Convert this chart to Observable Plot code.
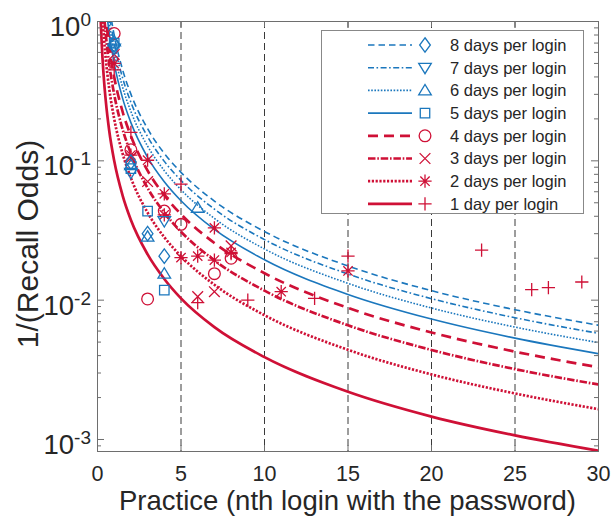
<!DOCTYPE html>
<html><head><meta charset="utf-8">
<script src="https://cdn.jsdelivr.net/npm/d3@7"></script>
<script src="https://cdn.jsdelivr.net/npm/@observablehq/plot@0.6"></script>
<style>
body{margin:0;background:#fff;}
#wrap{position:relative;width:613px;height:518px;font-family:"Liberation Sans",Arial,Helvetica,sans-serif;}
</style>
</head><body><div id="wrap"></div>
<script>
// ---------- data ----------
const legendLabels = ["8 days per login","7 days per login","6 days per login","5 days per login",
                      "4 days per login","3 days per login","2 days per login","1 day per login"];
const xTicks = [0,5,10,15,20,25,30];
const gridX = [5,10,15,20,25];
const yMajor = [1e-3,1e-2,1e-1,1];
const yExponents = ["-3","-2","-1","0"];

// model curves (x = nth login, y = 1/recall odds)
const curveX = [0.15,0.2,0.3,0.4,0.5,0.7,1,1.5,2,3,4,5,7,10,15,20,25,30];
const curve8 = [11.6,7.74,4.37,2.91,2.13,1.32,0.800,0.452,0.301,0.170,0.113,0.0827,0.0514,0.0311,0.0176,0.0117,0.00854,0.00661];
const curve7 = [10.2,6.77,3.82,2.55,1.86,1.157,0.700,0.395,0.263,0.149,0.0991,0.0724,0.045,0.0272,0.0154,0.01025,0.00748,0.00578];
const curve6 = [8.7,5.8,3.28,2.18,1.59,0.992,0.600,0.339,0.226,0.1275,0.085,0.062,0.0386,0.0233,0.0132,0.00878,0.00641,0.00496];
const curve5 = [7.25,4.84,2.73,1.82,1.33,0.827,0.500,0.282,0.188,0.106,0.0708,0.0517,0.0322,0.0195,0.011,0.00732,0.00534,0.00413];
const curve4 = [5.8,3.87,2.18,1.46,1.06,0.661,0.400,0.226,0.151,0.085,0.0566,0.0414,0.0257,0.0156,0.0088,0.00586,0.00427,0.0033];
const curve3 = [4.35,2.9,1.64,1.09,0.797,0.496,0.300,0.169,0.113,0.0638,0.0425,0.031,0.0193,0.0117,0.0066,0.00439,0.0032,0.00248];
const curve2 = [2.9,1.93,1.09,0.728,0.531,0.331,0.200,0.113,0.0753,0.0425,0.0283,0.0207,0.0129,0.0078,0.0044,0.00293,0.00214,0.00165];
const curve1 = [1.45,0.967,0.546,0.364,0.266,0.165,0.100,0.0565,0.0376,0.0213,0.0142,0.0103,0.0064,0.0039,0.0022,0.00146,0.00107,0.00083];

// observed points
const obs8x = [1,2,3,4];             const obs8y = [0.68,0.098,0.030,0.0207];
const obs7x = [1,2,4];               const obs7y = [0.64,0.082,0.037];
const obs6x = [1,2,3,4,6];           const obs6y = [0.72,0.093,0.0285,0.0155,0.046];
const obs5x = [1,2,3,4];             const obs5y = [0.70,0.088,0.0436,0.0118];
const obs4x = [1,2,3,4,5,7,8];       const obs4y = [0.82,0.12,0.0102,0.0436,0.035,0.0155,0.020];
const obs3x = [1,2,3,6,7,8];         const obs3y = [0.58,0.105,0.071,0.0106,0.0115,0.0245];
const obs2x = [1,2,3,4,4,5,6,7,7,8,11,15];
const obs2y = [0.50,0.11,0.101,0.058,0.041,0.0202,0.0207,0.033,0.0194,0.022,0.0115,0.0162];
const obs1x = [1,2,5,6,8,9,13,15,23,26,27,29];
const obs1y = [0.45,0.16,0.068,0.0096,0.0216,0.0100,0.0103,0.0207,0.0229,0.0119,0.0123,0.0135];

// ---------- symbols ----------
function mk(fn){ return {draw(ctx,size){ const r=Math.sqrt(size/Math.PI); fn(ctx,r); }}; }
const symDiamond = mk((c,r)=>{c.moveTo(0,-1.15*r);c.lineTo(0.85*r,0);c.lineTo(0,1.15*r);c.lineTo(-0.85*r,0);c.closePath();});
const symTriDown = mk((c,r)=>{c.moveTo(-r,-0.7*r);c.lineTo(r,-0.7*r);c.lineTo(0,0.95*r);c.closePath();});
const symTriUp   = mk((c,r)=>{c.moveTo(-r,0.7*r);c.lineTo(r,0.7*r);c.lineTo(0,-0.95*r);c.closePath();});
const symSquare  = mk((c,r)=>{const s=0.75*r;c.moveTo(-s,-s);c.lineTo(s,-s);c.lineTo(s,s);c.lineTo(-s,s);c.closePath();});
const symCircle  = mk((c,r)=>{const s=0.93*r;c.moveTo(s,0);c.arc(0,0,s,0,2*Math.PI);c.closePath();});
const symTimes   = mk((c,r)=>{const s=0.85*r;c.moveTo(-s,-s);c.lineTo(s,s);c.moveTo(s,-s);c.lineTo(-s,s);});
const symStar    = mk((c,r)=>{const s=1.05*r,t=0.74*r;c.moveTo(-s,0);c.lineTo(s,0);c.moveTo(0,-s);c.lineTo(0,s);c.moveTo(-t,-t);c.lineTo(t,t);c.moveTo(t,-t);c.lineTo(-t,t);});
const symPlus    = mk((c,r)=>{const s=1.05*r;c.moveTo(-s,0);c.lineTo(s,0);c.moveTo(0,-s);c.lineTo(0,s);});

// ---------- styles ----------
const blue = "#1b77bd", red = "#cf1036";
const series = [
  {label: legendLabels[0], curve: curve8, ox: obs8x, oy: obs8y, color: blue, width: 1.6, dash: "6.5,4",        sym: symDiamond},
  {label: legendLabels[1], curve: curve7, ox: obs7x, oy: obs7y, color: blue, width: 1.6, dash: "6,2.5,1.6,2.5", sym: symTriDown},
  {label: legendLabels[2], curve: curve6, ox: obs6x, oy: obs6y, color: blue, width: 1.6, dash: "1.6,1.6",       sym: symTriUp},
  {label: legendLabels[3], curve: curve5, ox: obs5x, oy: obs5y, color: blue, width: 1.6, dash: null,            sym: symSquare},
  {label: legendLabels[4], curve: curve4, ox: obs4x, oy: obs4y, color: red,  width: 2.7, dash: "10,6",          sym: symCircle},
  {label: legendLabels[5], curve: curve3, ox: obs3x, oy: obs3y, color: red,  width: 2.7, dash: "7.5,1.8,1.6,1.8", sym: symTimes},
  {label: legendLabels[6], curve: curve2, ox: obs2x, oy: obs2y, color: red,  width: 2.7, dash: "2.2,1.6",       sym: symStar},
  {label: legendLabels[7], curve: curve1, ox: obs1x, oy: obs1y, color: red,  width: 2.7, dash: null,            sym: symPlus}
];

const W=613, H=518, mL=97, mR=15, mT=21, mB=67;
const pW = W-mL-mR, pH = H-mT-mB;
const axisCol = "#6e6e6e";
const yMinor = [];
for (let e=-4; e<0; e++) for (let k=2;k<10;k++){ const v=k*Math.pow(10,e); if (v>=8.2e-4 && v<1) yMinor.push(v); }

const marks = [
  Plot.ruleX(gridX, {x: d=>d, stroke: "#3a3a3a", strokeWidth: 1, strokeDasharray: "7,4"})
];
series.slice().reverse().forEach(s=>{
  marks.push(Plot.line(curveX.map((x,i)=>({x, y: s.curve[i]})), {
    x:"x", y:"y", stroke: s.color, strokeWidth: s.width, strokeDasharray: s.dash,
    curve: "monotone-x", clip: true, strokeLinecap: "butt"}));
});
series.slice().reverse().forEach(s=>{
  marks.push(Plot.dot(s.ox.map((x,i)=>({x, y: s.oy[i]})), {
    x:"x", y:"y", symbol: s.sym, r: 6.3, stroke: s.color, fill: "none", strokeWidth: 1.3}));
});
marks.push(
  Plot.frame({stroke: axisCol, strokeWidth: 1}),
  Plot.tickY(yMajor, {y: d=>d, insetRight: pW-7, stroke: axisCol}),
  Plot.tickY(yMajor, {y: d=>d, insetLeft: pW-7, stroke: axisCol}),
  Plot.tickY(yMinor, {y: d=>d, insetRight: pW-4, stroke: axisCol}),
  Plot.tickY(yMinor, {y: d=>d, insetLeft: pW-4, stroke: axisCol}),
  Plot.tickX(xTicks, {x: d=>d, insetTop: pH-6, stroke: axisCol}),
  Plot.tickX(xTicks, {x: d=>d, insetBottom: pH-6, stroke: axisCol}),
  Plot.axisX({ticks: xTicks, tickSize: 0, tickPadding: 14, fontSize: 21.5, label: null, tickFormat: d=>String(d)})
);

const chart = Plot.plot({
  width: W, height: H, marginLeft: mL, marginRight: mR, marginTop: mT, marginBottom: mB,
  style: {fontFamily: '"Liberation Sans", Arial, Helvetica, sans-serif', color: "#262626", background: "white", overflow: "visible"},
  x: {domain: [0,30]},
  y: {type: "log", domain: [8.2e-4, 1], axis: null},
  marks
});

const wrap = document.getElementById("wrap");
wrap.appendChild(chart);
const svg = d3.select(chart);
const yScale = chart.scale("y");

// log tick labels with superscripts, right-aligned to the axis
const gl = svg.append("g").attr("fill", "#262626").attr("text-anchor", "start")
  .attr("font-family", '"Liberation Sans", Arial, Helvetica, sans-serif');
yMajor.forEach((v,i)=>{
  const py = yScale.apply(v);
  const t = gl.append("text").attr("text-anchor","start").attr("x", 0).attr("y", py + 15).attr("font-size", 27.5);
  t.append("tspan").text("10");
  t.append("tspan").attr("dy", -10).attr("font-size", 19).text(yExponents[i]);
  const w = t.node().getBBox().width;
  t.attr("x", mL - 6 - w);
});
// axis titles
svg.append("text").attr("x", mL + pW/2).attr("y", 510).attr("text-anchor","middle")
  .attr("font-size", 27.5).attr("fill","#262626").text("Practice (nth login with the password)");
svg.append("text").attr("transform", `translate(38,${mT + pH/2 + 8}) rotate(-90)`).attr("text-anchor","middle")
  .attr("font-size", 30).attr("fill","#262626").text("1/(Recall Odds)");

// legend box
const leg = d3.create("svg").attr("width", 264).attr("height", 186)
  .style("position","absolute").style("left","320px").style("top","29px")
  .style("font-family",'"Liberation Sans", Arial, Helvetica, sans-serif');
leg.append("rect").attr("x",1.5).attr("y",1.5).attr("width",262).attr("height",183)
  .attr("fill","white").attr("stroke","#888").attr("stroke-width",1);
series.forEach((s,i)=>{
  const cy = 16 + i*22.7;
  leg.append("line").attr("x1",48).attr("x2",92).attr("y1",cy).attr("y2",cy)
    .attr("stroke", s.color).attr("stroke-width", s.width).attr("stroke-dasharray", s.dash);
  const p = d3.path(); s.sym.draw(p, Math.PI*6.3*6.3);
  leg.append("path").attr("d", p.toString()).attr("transform",`translate(105,${cy})`)
    .attr("fill","none").attr("stroke", s.color).attr("stroke-width",1.3);
  leg.append("text").attr("x",130).attr("y",cy).attr("dy","0.36em").attr("font-size",16.5)
    .attr("fill","#262626").text(s.label);
});
wrap.appendChild(leg.node());
</script></body></html>
